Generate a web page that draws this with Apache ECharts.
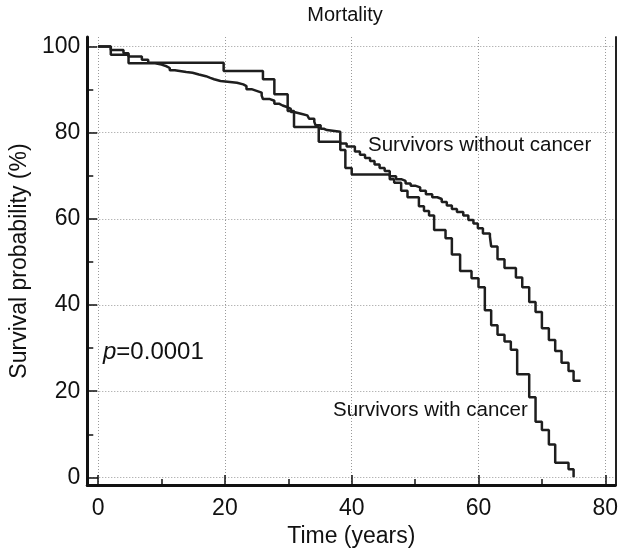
<!DOCTYPE html>
<html>
<head>
<meta charset="utf-8">
<script src="https://cdn.jsdelivr.net/npm/echarts@6/dist/echarts.min.js"></script>
<style>
html,body{margin:0;padding:0;background:#fff;}
#chart{width:621px;height:553px;}
</style>
</head>
<body>
<div id="chart"></div>
<script>
// Survivors with cancer: step times (years) and survival (%) from that time on
var withCancerTime = [0, 2.0, 4.0, 4.8, 6.9, 7.9, 19.8, 26.0, 27.8, 29.9, 30.9, 34.8, 38.2, 39.0, 40.0, 46.0, 46.7, 47.8, 48.8, 50.6, 51.4, 52.2, 53.0, 54.8, 55.8, 57.1, 58.9, 60.0, 61.0, 62.0, 63.0, 64.1, 65.1, 66.1, 68.0, 69.0, 70.0, 71.1, 72.1, 74.2, 75.0];
var withCancerSurv = [100, 99.2, 98.4, 97.7, 96.9, 96.2, 94.3, 92.4, 88.9, 85.0, 81.3, 77.9, 76.0, 71.8, 70.3, 69.2, 68.4, 66.5, 65.0, 62.9, 61.8, 60.8, 57.4, 55.5, 51.7, 47.9, 46.2, 44.1, 38.8, 35.3, 33.1, 31.5, 29.6, 23.9, 18.6, 12.9, 11.0, 7.6, 3.4, 1.9, 0];

// Survivors without cancer
var withoutCancerTime = [0, 2.0, 4.8, 9.0, 10.0, 10.8, 11.3, 12.1, 13.9, 14.9, 15.9, 17.0, 17.7, 18.3, 19.3, 21.9, 22.9, 23.4, 24.2, 25.0, 25.8, 26.0, 27.1, 27.8, 28.6, 29.1, 29.9, 30.4, 30.9, 32.0, 33.0, 33.3, 34.1, 34.3, 35.1, 35.6, 36.1, 38.2, 39.2, 40.5, 41.3, 42.1, 42.9, 43.6, 44.4, 45.2, 46.0, 47.0, 47.8, 48.5, 49.3, 50.0, 50.8, 51.7, 52.7, 53.5, 54.2, 55.0, 55.8, 56.6, 57.6, 58.4, 59.2, 59.9, 60.7, 61.8, 62.0, 63.0, 64.1, 65.9, 66.9, 68.0, 69.0, 70.0, 71.1, 72.1, 73.1, 74.2, 75.0, 76.1];
var withoutCancerSurv = [100, 98.1, 96.1, 95.8, 95.4, 95.0, 94.5, 94.1, 93.9, 93.5, 93.1, 92.7, 92.4, 92.0, 91.6, 91.2, 90.8, 90.1, 89.7, 89.3, 88.6, 87.8, 87.4, 86.7, 86.3, 85.9, 85.5, 84.8, 84.4, 84.0, 83.6, 83.2, 82.5, 81.7, 80.9, 80.6, 80.2, 77.5, 76.8, 75.6, 74.9, 74.1, 73.4, 72.6, 71.8, 71.1, 69.9, 69.2, 68.8, 68.2, 67.7, 67.3, 66.5, 65.7, 65.0, 64.6, 63.9, 63.1, 62.3, 61.6, 60.8, 59.7, 58.9, 57.8, 56.6, 55.9, 53.6, 50.6, 48.6, 46.4, 44.1, 40.7, 38.4, 34.6, 31.9, 29.3, 26.6, 24.7, 22.4, 22.4];

var xTicks = [0, 20, 40, 60, 80];
var xMinorTicks = [10, 30, 50, 70];
var yTicks = [0, 20, 40, 60, 80, 100];
var yMinorTicks = [10, 30, 50, 70, 90];

var titleText = 'Mortality';
var xName = 'Time (years)';
var yName = 'Survival probability (%)';
var labelWithout = 'Survivors without cancer';
var labelWith = 'Survivors with cancer';
var pText = '=0.0001';

function pairs(t, s) { return t.map(function (v, i) { return [v, s[i]]; }); }

var FONT = "'Liberation Sans', Arial, Helvetica, sans-serif";
var X_MIN = -1.71, X_MAX = 81.58, Y_MIN = -1.8, Y_MAX = 102.2;

var chart = echarts.init(document.getElementById('chart'), null, {renderer: 'canvas'});
var gridLine = {show: true, lineStyle: {color: '#9a9a9a', width: 1, type: [1, 2]}};

chart.setOption({
  animation: false,
  backgroundColor: '#fff',
  grid: {left: 83, right: 1.5, top: 37, bottom: 60, containLabel: false},
  xAxis: [{
    type: 'value', min: X_MIN, max: X_MAX,
    name: xName, nameLocation: 'middle', nameGap: 35,
    nameTextStyle: {fontFamily: FONT, fontSize: 23, color: '#111'},
    axisLine: {show: true, onZero: false, lineStyle: {color: '#111', width: 3}},
    axisTick: {show: true, inside: true, length: 10, customValues: xTicks, lineStyle: {color: '#111', width: 1.5}},
    axisLabel: {show: true, customValues: xTicks, margin: 12, fontFamily: FONT, fontSize: 23, color: '#111'},
    splitLine: gridLine
  }, {
    type: 'value', min: X_MIN, max: X_MAX, position: 'bottom',
    axisLine: {show: false, onZero: false},
    axisTick: {show: true, inside: true, length: 6, customValues: xMinorTicks, lineStyle: {color: '#111', width: 1.5}},
    axisLabel: {show: false},
    splitLine: {show: false}
  }],
  yAxis: [{
    type: 'value', min: Y_MIN, max: Y_MAX,
    name: yName, nameLocation: 'middle', nameGap: 47,
    nameTextStyle: {fontFamily: FONT, fontSize: 23, color: '#111'},
    axisLine: {show: true, onZero: false, lineStyle: {color: '#111', width: 3}},
    axisTick: {show: true, inside: true, length: 10, customValues: yTicks, lineStyle: {color: '#111', width: 1.5}},
    axisLabel: {show: true, customValues: yTicks, margin: 7, fontFamily: FONT, fontSize: 23, color: '#111'},
    splitLine: gridLine
  }, {
    type: 'value', min: Y_MIN, max: Y_MAX, position: 'left',
    axisLine: {show: false, onZero: false},
    axisTick: {show: true, inside: true, length: 6, customValues: yMinorTicks, lineStyle: {color: '#111', width: 1.5}},
    axisLabel: {show: false},
    splitLine: {show: false}
  }, {
    type: 'value', min: Y_MIN, max: Y_MAX, position: 'right',
    axisLine: {show: true, onZero: false, lineStyle: {color: '#222', width: 2}},
    axisTick: {show: false}, axisLabel: {show: false}, splitLine: {show: false}
  }],
  series: [{
    name: labelWithout, type: 'line', step: 'end', showSymbol: false, symbol: 'none',
    data: pairs(withoutCancerTime, withoutCancerSurv),
    lineStyle: {color: '#1e1e1e', width: 2.5}
  }, {
    name: labelWith, type: 'line', step: 'end', showSymbol: false, symbol: 'none',
    data: pairs(withCancerTime, withCancerSurv),
    lineStyle: {color: '#1e1e1e', width: 2.5}
  }],
  graphic: [
    {type: 'text', x: 345, y: 15, style: {text: titleText, font: '20px ' + FONT, fill: '#111', align: 'center', verticalAlign: 'middle'}},
    {type: 'text', x: 368, y: 145, style: {text: labelWithout, font: '20.5px ' + FONT, fill: '#111', align: 'left', verticalAlign: 'middle'}},
    {type: 'text', x: 333, y: 410, style: {text: labelWith, font: '20.5px ' + FONT, fill: '#111', align: 'left', verticalAlign: 'middle'}},
    {type: 'text', x: 103, y: 352, style: {text: '{i|p}' + pText, font: '24px ' + FONT, fill: '#111', align: 'left', verticalAlign: 'middle',
      rich: {i: {fontStyle: 'italic', fontSize: 24, fontFamily: FONT, fill: '#111'}}}}
  ]
});
</script>
</body>
</html>
